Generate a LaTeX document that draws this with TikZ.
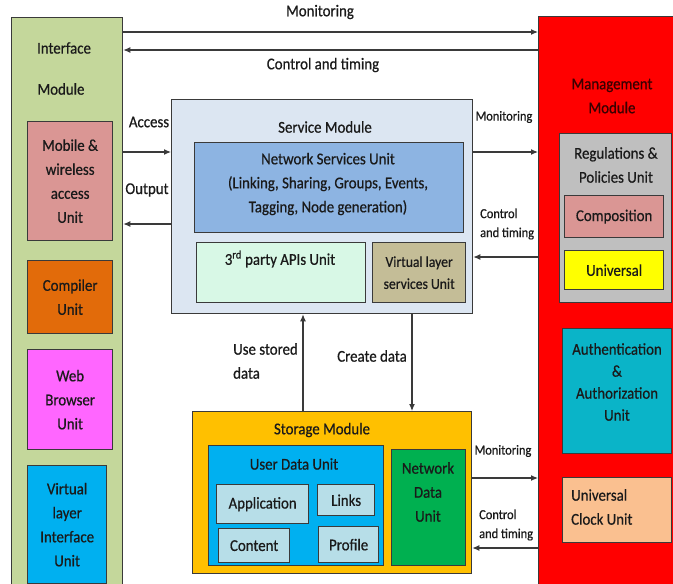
\documentclass[tikz,border=0pt]{standalone}
\usepackage{fontspec}
\setmainfont{Carlito}[FakeStretch=0.9, FakeBold=0.6]
\usetikzlibrary{arrows.meta}

\definecolor{ifgreen}{HTML}{C4D79B}
\definecolor{mobpink}{HTML}{DA9694}
\definecolor{comporange}{HTML}{E26B0A}
\definecolor{webmag}{HTML}{FF66FF}
\definecolor{vlblue}{HTML}{00B0F0}
\definecolor{svcbg}{HTML}{DCE6F2}
\definecolor{nsblue}{HTML}{8DB4E2}
\definecolor{apimint}{HTML}{D8F8E6}
\definecolor{vltan}{HTML}{C4BD97}
\definecolor{storyellow}{HTML}{FFC000}
\definecolor{udblue}{HTML}{00B0F0}
\definecolor{itemblue}{HTML}{B7DEE8}
\definecolor{ndgreen}{HTML}{00B050}
\definecolor{mgred}{HTML}{FF0000}
\definecolor{reggray}{HTML}{BFBFBF}
\definecolor{univyellow}{HTML}{FFFF00}
\definecolor{authteal}{HTML}{0AB4C8}
\definecolor{clockpeach}{HTML}{FAC090}
\definecolor{edge}{HTML}{3A3A3A}
\definecolor{ink}{HTML}{1A1A1A}
\definecolor{mgink}{HTML}{3A0000}

\tikzset{
  box/.style={draw=edge, line width=1.3pt, inner sep=0pt, anchor=north west},
  lbl/.style={text=ink, font=\fontsize{16.5}{24}\selectfont, align=center, inner sep=0pt},
  slbl/.style={text=ink, font=\fontsize{13.8}{19}\selectfont, align=left, inner sep=0pt},
  arr/.style={draw=edge, line width=1.1pt, -{Latex[length=7pt,width=6pt]}}
}

\begin{document}
\begin{tikzpicture}[x=1pt,y=-1pt]
\clip (0,0) rectangle (673,584);
\fill[white] (0,0) rectangle (673,584);

% Interface module and its units
\node[box, fill=ifgreen, minimum width=111, minimum height=590] (IM) at (11,17) {};
\node[lbl] at (64,48) {Interface};
\node[lbl] at (61,89) {Module};
\node[box, fill=mobpink, minimum width=85, minimum height=119] (mob) at (27,121) {};
\node[lbl] at (mob.center) {Mobile \&\\wireless\\access\\Unit};
\node[box, fill=comporange, minimum width=85, minimum height=73] (comp) at (27,260) {};
\node[lbl] at (comp.center) {Compiler\\Unit};
\node[box, fill=webmag, minimum width=85, minimum height=100] (web) at (27,349) {};
\node[lbl] at (web.center) {Web\\Browser\\Unit};
\node[box, fill=vlblue, minimum width=79, minimum height=118] (vli) at (27,465) {};
\node[lbl] at (vli.center) {Virtual\\layer\\Interface\\Unit};

% Management module and its units
\node[box, fill=mgred, minimum width=150, minimum height=590] (MM) at (538,16) {};
\node[lbl, text=mgink] at (612,96) {Management\\Module};
\node[box, fill=reggray, minimum width=112, minimum height=169] (reg) at (559,133) {};
\node[lbl] at (616,165) {Regulations \&\\Policies Unit};
\node[box, fill=mobpink, minimum width=99, minimum height=42] (compo) at (564,195) {};
\node[lbl] at (compo.center) {Composition};
\node[box, fill=univyellow, minimum width=99, minimum height=39] (univ) at (564,250) {};
\node[lbl] at (univ.center) {Universal};
\node[box, fill=authteal, minimum width=109, minimum height=125] (auth) at (562,328) {};
\node[lbl, font=\fontsize{16.5}{22}\selectfont] at (617,382) {Authentication\\\&\\Authorization\\Unit};
\node[box, fill=clockpeach, minimum width=109, minimum height=65] (clock) at (562,477) {};
\node[lbl, align=left, anchor=west] at (571,507) {Universal\\Clock Unit};

% Service module
\node[box, fill=svcbg, minimum width=301, minimum height=214] (SM) at (171,99) {};
\node[lbl] at (325,127) {Service Module};
\node[box, fill=nsblue, minimum width=269, minimum height=90] (ns) at (194,142) {};
\node[lbl] at (328,184) {Network Services Unit\\(Linking, Sharing, Groups, Events,\\Tagging, Node generation)};
\node[box, fill=apimint, minimum width=169, minimum height=60] (api) at (196,242) {};
\node[lbl] at (280,259) {3\textsuperscript{rd} party APIs Unit};
\node[box, fill=vltan, minimum width=93, minimum height=60] (vls) at (372,242) {};
\node[lbl, font=\fontsize{15.2}{22}\selectfont] at (vls.center) {Virtual layer\\services Unit};

% Storage module
\node[box, fill=storyellow, minimum width=279, minimum height=162] (ST) at (192,411) {};
\node[lbl] at (322,430) {Storage Module};
\node[box, fill=udblue, minimum width=175, minimum height=120] (ud) at (208,445) {};
\node[lbl] at (294,464) {User Data Unit};
\node[box, fill=itemblue, minimum width=92, minimum height=39] (app) at (216,484) {};
\node[lbl] at (app.center) {Application};
\node[box, fill=itemblue, minimum width=57, minimum height=31] (links) at (317,484) {};
\node[lbl] at (links.center) {Links};
\node[box, fill=itemblue, minimum width=71, minimum height=34] (cont) at (218,528) {};
\node[lbl] at (cont.center) {Content};
\node[box, fill=itemblue, minimum width=60, minimum height=36] (prof) at (318,526) {};
\node[lbl] at (prof.center) {Profile};
\node[box, fill=ndgreen, minimum width=74, minimum height=116] (nd) at (391,449) {};
\node[lbl] at (428,492) {Network\\Data\\Unit};

% Connectors between modules
\draw[arr] (IM.east |- 0,32) -- (MM.west |- 0,32);
\draw[arr] (MM.west |- 0,50) -- (IM.east |- 0,50);
\node[lbl] at (320,12) {Monitoring};
\node[lbl] at (323,65) {Control and timing};

\draw[arr] (IM.east |- 0,152) -- (SM.west |- 0,152);
\draw[arr] (SM.west |- 0,224) -- (IM.east |- 0,224);
\node[lbl] at (149,122) {Access};
\node[lbl] at (147,190) {Output};

\draw[arr] (SM.east |- 0,152) -- (MM.west |- 0,152);
\draw[arr] (MM.west |- 0,257) -- (SM.east |- 0,257);
\node[slbl] at (504,117) {Monitoring};
\node[slbl, anchor=west] at (480,224) {Control\\and timing};

\draw[arr] (ST.north -| 303,0) -- (SM.south -| 303,0);
\draw[arr] (SM.south -| 412,0) -- (ST.north -| 412,0);
\node[lbl, align=left, anchor=west] at (233,361) {Use stored\\data};
\node[lbl] at (372,356) {Create data};

\draw[arr] (ST.east |- 0,478) -- (MM.west |- 0,478);
\draw[arr] (MM.west |- 0,548) -- (ST.east |- 0,548);
\node[slbl] at (503,451) {Monitoring};
\node[slbl, anchor=west] at (479,525) {Control\\and timing};
\end{tikzpicture}
\end{document}
